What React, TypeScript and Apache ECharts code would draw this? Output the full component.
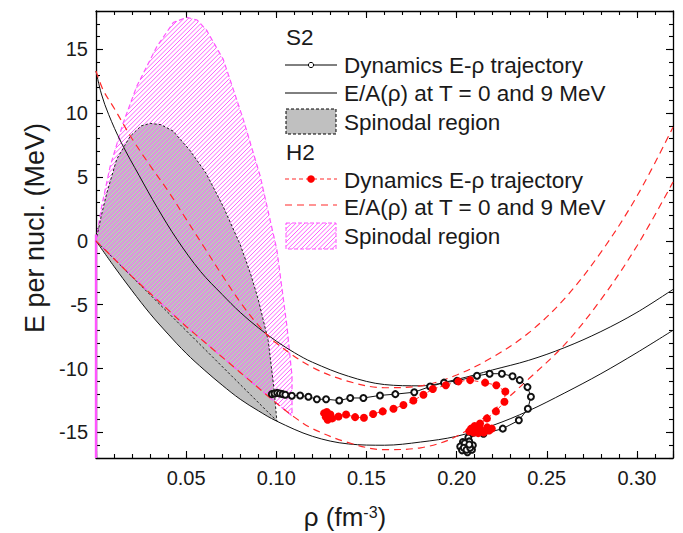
import React, { useEffect, useRef } from "react";
import * as echarts from "echarts";

// ---------- data ----------
// S2 : E/A(rho) at T = 0 (lower black curve)
const s2T0Rho = [0, 0.01, 0.02, 0.03, 0.04, 0.05, 0.06, 0.07, 0.08, 0.09, 0.10, 0.12, 0.14, 0.16, 0.18, 0.20, 0.22, 0.24, 0.26, 0.28, 0.30, 0.32];
const s2T0E = [0, -2.0, -3.9, -5.7, -7.3, -8.8, -10.1, -11.3, -12.4, -13.3, -14.1, -15.3, -15.9, -16.0, -15.75, -15.3, -14.45, -13.3, -11.9, -10.4, -8.75, -7.0];
// S2 : E/A(rho) at T = 9 MeV (upper black curve)
const s2T9Rho = [0, 0.003, 0.007, 0.014, 0.024, 0.034, 0.045, 0.058, 0.07, 0.08, 0.09, 0.10, 0.11, 0.12, 0.14, 0.16, 0.18, 0.20, 0.22, 0.24, 0.26, 0.28, 0.30, 0.32];
const s2T9E = [13.3, 11.5, 9.9, 7.7, 5.1, 2.6, 0.1, -2.4, -4.2, -5.6, -6.8, -7.85, -8.75, -9.5, -10.6, -11.25, -11.35, -10.85, -10.1, -9.35, -8.35, -7.1, -5.6, -3.8];
// H2 : E/A(rho) at T = 0 (lower red dashed curve)
const h2T0Rho = [0, 0.01, 0.02, 0.03, 0.04, 0.05, 0.06, 0.07, 0.08, 0.09, 0.10, 0.11, 0.12, 0.14, 0.16, 0.18, 0.20, 0.22, 0.24, 0.26, 0.28, 0.30, 0.32];
const h2T0E = [0, -1.4, -2.8, -4.1, -5.4, -6.7, -7.9, -9.1, -10.3, -11.5, -12.7, -13.8, -14.7, -15.8, -16.35, -16.2, -15.3, -13.3, -10.8, -8.1, -4.6, -0.4, 4.6];
// H2 : E/A(rho) at T = 9 MeV (upper red dashed curve)
const h2T9Rho = [0, 0.004, 0.01, 0.02, 0.03, 0.04, 0.05, 0.06, 0.07, 0.08, 0.09, 0.10, 0.12, 0.14, 0.16, 0.18, 0.20, 0.22, 0.24, 0.26, 0.28, 0.30, 0.32];
const h2T9E = [13.3, 11.8, 10.4, 8.0, 5.9, 3.9, 1.7, -0.5, -2.7, -4.8, -6.6, -8.0, -9.9, -11.0, -11.5, -11.35, -10.5, -9.1, -7.2, -4.5, -0.9, 3.5, 8.9];

// S2 spinodal region: upper boundary (closed by the S2 T=0 curve)
const s2SpinRho = [0, 0.003, 0.006, 0.0115, 0.019, 0.025, 0.030, 0.036, 0.0427, 0.052, 0.061, 0.0705, 0.080, 0.086, 0.090, 0.0955, 0.0988, 0.1003];
const s2SpinE = [0, 2.0, 3.75, 6.4, 8.2, 9.0, 9.2, 9.1, 8.6, 7.1, 5.3, 2.7, -0.3, -2.7, -4.6, -7.8, -11.7, -14.1];
// H2 spinodal region: upper boundary (closed by the H2 T=0 curve)
const h2SpinRho = [0, 0.003, 0.0078, 0.015, 0.0226, 0.0337, 0.0429, 0.0503, 0.056, 0.0613, 0.0706, 0.0817, 0.091, 0.1003, 0.1059, 0.1087, 0.1087];
const h2SpinE = [0, 2.6, 5.8, 9.2, 12.1, 15.2, 17.1, 17.5, 17.3, 16.5, 14.2, 9.5, 5.1, -0.7, -6.7, -10.6, -13.7];
const h2SpinEdgeRho = [0, 0];
const h2SpinEdgeE = [0.5, -17];

// S2 dynamics trajectory
const s2TrajRho = [0.0975, 0.099, 0.1005, 0.102, 0.1035, 0.105, 0.1086, 0.1132, 0.1178, 0.1225, 0.1276, 0.1349, 0.141, 0.1483, 0.1575, 0.166, 0.1765, 0.1853, 0.193, 0.2002, 0.2113, 0.2183, 0.2251, 0.231, 0.235, 0.2393, 0.2412, 0.2395, 0.2345, 0.2256, 0.2149, 0.2065, 0.2035, 0.202, 0.203, 0.206, 0.2085, 0.209, 0.207, 0.2045, 0.204, 0.2055, 0.2075, 0.207];
const s2TrajE = [-12.0, -11.95, -11.9, -11.95, -12.0, -12.05, -12.13, -12.1, -12.2, -12.4, -12.4, -12.5, -12.3, -12.3, -12.1, -12.0, -11.85, -11.4, -11.1, -10.96, -10.56, -10.4, -10.4, -10.6, -10.9, -11.45, -12.2, -13.15, -14.05, -14.7, -15.1, -15.4, -15.75, -16.1, -16.4, -16.55, -16.35, -16.0, -15.7, -15.85, -16.2, -16.35, -16.2, -15.95];
// H2 dynamics trajectory
const h2TrajRho = [0.1265, 0.1275, 0.1285, 0.128, 0.13, 0.131, 0.129, 0.1345, 0.1387, 0.1437, 0.1486, 0.1537, 0.159, 0.165, 0.1705, 0.176, 0.1816, 0.1868, 0.194, 0.201, 0.2075, 0.2158, 0.222, 0.227, 0.2265, 0.2218, 0.2168, 0.213, 0.21, 0.208, 0.207, 0.2095, 0.212, 0.215, 0.218, 0.2195, 0.217, 0.213, 0.211];
const h2TrajE = [-13.5, -13.8, -14.0, -13.4, -13.6, -13.9, -13.7, -13.75, -13.6, -13.8, -13.85, -13.55, -13.35, -13.15, -12.85, -12.5, -12.05, -11.6, -11.3, -11.0, -10.9, -11.1, -11.3, -11.8, -12.6, -13.35, -13.9, -14.3, -14.5, -14.7, -14.9, -15.0, -15.05, -15.0, -14.85, -14.7, -14.6, -14.7, -14.85];

// axes
const xMin = 0, xMax = 0.32;
const yMin = -17, yMax = 18;
const yMajorTicks = [-15, -10, -5, 0, 5, 10, 15];

// legend texts
const legendTitles = ["S2", "H2"];
const legendTexts = ["Dynamics E-ρ trajectory", "E/A(ρ) at T = 0 and 9 MeV", "Spinodal region"];

// ---------- styles ----------
const FONT = "'Liberation Sans', Arial, Helvetica, sans-serif";
const TXT = "#1a1a1a";
const RED = "#ff2a2a";
const MAG = "#ff55ff";
const HATCH = "#ff5cff";
const GREY = "#c0c0c0";
const HATCH_STEP = 4.4;

const zip = (xs: number[], ys: number[]) => xs.map((x, i) => [x, ys[i]]);

// segments of lines x + y = c (pixel space, "/" direction) inside a pixel polygon
function hatchSegments(poly: number[][], step: number): number[][] {
  const sums = poly.map((p) => p[0] + p[1]);
  const cMin = Math.min(...sums), cMax = Math.max(...sums);
  const segs: number[][] = [];
  const start = Math.ceil(cMin / step) * step;
  for (let c = start; c <= cMax; c += step) {
    const pts: number[][] = [];
    for (let i = 0; i < poly.length; i++) {
      const a = poly[i], b = poly[(i + 1) % poly.length];
      const sa = a[0] + a[1] - c, sb = b[0] + b[1] - c;
      if ((sa < 0 && sb >= 0) || (sa >= 0 && sb < 0)) {
        const t = sa / (sa - sb);
        pts.push([a[0] + t * (b[0] - a[0]), a[1] + t * (b[1] - a[1])]);
      }
    }
    pts.sort((p, q) => p[0] - q[0]);
    for (let k = 0; k + 1 < pts.length; k += 2) segs.push([pts[k][0], pts[k][1], pts[k + 1][0], pts[k + 1][1]]);
  }
  return segs;
}

function polygonPoints(upperX: number[], upperY: number[], lowX: number[], lowY: number[]) {
  const last = upperX[upperX.length - 1];
  const upper = zip(upperX, upperY);
  const lower = zip(lowX, lowY).filter((p) => p[0] < last - 1e-6 && p[0] > 0).reverse();
  return [...upper, ...lower, [0, 0]];
}

const s2Poly = polygonPoints(s2SpinRho, s2SpinE, s2T0Rho, s2T0E);
const h2Poly = polygonPoints(h2SpinRho, h2SpinE, h2T0Rho, h2T0E);

function polySeries(name: string, pts: number[][], style: any, hatched = false) {
  return {
    type: "custom",
    name,
    coordinateSystem: "cartesian2d",
    xAxisIndex: 0,
    yAxisIndex: 0,
    silent: true,
    clip: true,
    data: [[0, 0]],
    renderItem: (_p: any, api: any) => {
      const px = pts.map((p) => api.coord(p));
      if (!hatched) return { type: "polygon", shape: { points: px }, style };
      const lines = hatchSegments(px, HATCH_STEP).map((s) => ({
        type: "line",
        shape: { x1: s[0], y1: s[1], x2: s[2], y2: s[3] },
        style: { stroke: HATCH, lineWidth: 1 },
      }));
      return {
        type: "group",
        children: [...lines, { type: "polygon", shape: { points: px }, style }],
      };
    },
  };
}

function xAxisDef(position: string, interval: number, len: number, showLine: boolean, showLabel: boolean) {
  return {
    type: "value",
    min: xMin,
    max: xMax,
    interval,
    position,
    axisLine: { show: showLine, onZero: false, lineStyle: { color: "#000", width: 1.3 } },
    axisTick: { show: true, inside: true, length: len, lineStyle: { color: "#000", width: 1.1 } },
    axisLabel: {
      show: showLabel,
      margin: 10,
      fontSize: 20,
      fontFamily: FONT,
      color: TXT,
      formatter: (v: number) => (v < 0.001 || v > 0.305 ? "" : v.toFixed(2)),
    },
    splitLine: { show: false },
  };
}

function yAxisDef(position: string, major: boolean, showLine: boolean, showLabel: boolean) {
  const base: any = {
    type: "value",
    min: yMin,
    max: yMax,
    position,
    axisLine: { show: showLine, onZero: false, lineStyle: { color: "#000", width: 1.3 } },
    axisTick: { show: true, inside: true, length: major ? 7 : 4, lineStyle: { color: "#000", width: 1.1 } },
    axisLabel: { show: false },
    splitLine: { show: false },
  };
  if (major) {
    base.axisTick.customValues = yMajorTicks;
    base.axisLabel = {
      show: showLabel,
      customValues: yMajorTicks,
      margin: 8,
      fontSize: 20,
      fontFamily: FONT,
      color: TXT,
      formatter: (v: number) => String(v),
    };
  } else {
    base.interval = 1;
  }
  return base;
}

function legendGraphics() {
  const x0 = 285, x1 = 337, tx = 344;
  const t = (text: string, x: number, y: number) => ({
    type: "text",
    x,
    y,
    style: { text, fontSize: 22.5, fontFamily: FONT, fill: TXT, align: "left", verticalAlign: "middle" },
  });
  const hr = { x: 286, y: 223, w: 50, h: 26 };
  const rectPoly = [[hr.x, hr.y], [hr.x + hr.w, hr.y], [hr.x + hr.w, hr.y + hr.h], [hr.x, hr.y + hr.h]];
  const hatchLines = hatchSegments(rectPoly, HATCH_STEP).map((s) => ({
    type: "line",
    shape: { x1: s[0], y1: s[1], x2: s[2], y2: s[3] },
    style: { stroke: HATCH, lineWidth: 1 },
  }));
  return [
    t(legendTitles[0], 286, 37),
    { type: "line", shape: { x1: x0, y1: 65, x2: x1, y2: 65 }, style: { stroke: "#000", lineWidth: 1 } },
    { type: "circle", shape: { cx: 311, cy: 65, r: 2.6 }, style: { fill: "#fff", stroke: "#000", lineWidth: 1 } },
    t(legendTexts[0], tx, 65),
    { type: "line", shape: { x1: x0, y1: 93, x2: x1, y2: 93 }, style: { stroke: "#000", lineWidth: 1 } },
    t(legendTexts[1], tx, 93),
    { type: "rect", shape: { x: 286, y: 109, width: 50, height: 25 }, style: { fill: GREY, stroke: "#000", lineWidth: 1, lineDash: [3, 2] } },
    t(legendTexts[2], tx, 122),
    t(legendTitles[1], 286, 152),
    { type: "line", shape: { x1: x0, y1: 179, x2: x1, y2: 179 }, style: { stroke: RED, lineWidth: 1.2, lineDash: [4, 3] } },
    { type: "circle", shape: { cx: 311, cy: 179, r: 3.8 }, style: { fill: "#ff0000", stroke: "none" } },
    t(legendTexts[0], tx, 180),
    { type: "line", shape: { x1: x0, y1: 205, x2: x1, y2: 205 }, style: { stroke: RED, lineWidth: 1.2, lineDash: [7, 5] } },
    t(legendTexts[1], tx, 207),
    ...hatchLines,
    { type: "rect", shape: { x: hr.x, y: hr.y, width: hr.w, height: hr.h }, style: { fill: "none", stroke: MAG, lineWidth: 1, lineDash: [4, 2] } },
    t(legendTexts[2], tx, 236),
  ];
}

export default function App() {
  const ref = useRef<HTMLDivElement>(null);
  useEffect(() => {
    if (!ref.current) return;
    const chart = echarts.init(ref.current, null, { renderer: "svg" });
    const curve = (name: string, xs: number[], ys: number[], color: string, dash: any, width: number) => ({
      type: "line",
      name,
      data: zip(xs, ys),
      smooth: 0.35,
      showSymbol: false,
      symbol: "none",
      silent: true,
      lineStyle: { color, width, type: dash },
      xAxisIndex: 0,
      yAxisIndex: 0,
    });
    const option: any = {
      animation: false,
      backgroundColor: "#fff",
      grid: { left: 96, top: 11, right: 10, bottom: 75, containLabel: false },
      xAxis: [
        xAxisDef("bottom", 0.05, 7, true, true),
        xAxisDef("bottom", 0.01, 4, false, false),
        xAxisDef("top", 0.05, 7, true, false),
        xAxisDef("top", 0.01, 4, false, false),
      ],
      yAxis: [
        yAxisDef("left", true, true, true),
        yAxisDef("left", false, false, false),
        yAxisDef("right", true, true, false),
        yAxisDef("right", false, false, false),
      ],
      series: [
        polySeries("S2 spinodal fill", s2Poly, { fill: GREY, stroke: "none" }),
        polySeries("H2 spinodal", h2Poly, { fill: "none", stroke: MAG, lineWidth: 1.2, lineDash: [5, 3] }, true),
        polySeries("S2 spinodal edge", zip(s2SpinRho, s2SpinE).concat([[0, 0]]), { fill: "none", stroke: "#222", lineWidth: 1, lineDash: [2.5, 2] }),
        {
          type: "line",
          name: "H2 spinodal edge",
          data: zip(h2SpinEdgeRho, h2SpinEdgeE),
          symbol: "none",
          silent: true,
          clip: false,
          z: 3,
          lineStyle: { color: MAG, width: 2.4 },
        },
        curve("S2 T=0", s2T0Rho, s2T0E, "#111", "solid", 1),
        curve("S2 T=9", s2T9Rho, s2T9E, "#111", "solid", 1),
        curve("H2 T=0", h2T0Rho, h2T0E, RED, [7, 5], 1.2),
        curve("H2 T=9", h2T9Rho, h2T9E, RED, [7, 5], 1.2),
        {
          type: "line",
          name: "S2 trajectory",
          data: zip(s2TrajRho, s2TrajE),
          symbol: "emptyCircle",
          symbolSize: 6,
          showAllSymbol: true,
          silent: true,
          itemStyle: { color: "#111", borderColor: "#111", borderWidth: 1 },
          lineStyle: { color: "#111", width: 1 },
        },
        {
          type: "line",
          name: "H2 trajectory",
          data: zip(h2TrajRho, h2TrajE),
          symbol: "circle",
          symbolSize: 8,
          showAllSymbol: true,
          silent: true,
          itemStyle: { color: "#ff0000" },
          lineStyle: { color: RED, width: 1, type: [4, 3] },
        },
      ],
      graphic: [
        ...legendGraphics(),
        {
          type: "text",
          x: 35,
          y: 228,
          rotation: Math.PI / 2,
          style: { text: "E per nucl. (MeV)", fontSize: 27, fontFamily: FONT, fill: TXT, align: "center", verticalAlign: "middle" },
        },
        {
          type: "text",
          x: 345,
          y: 517,
          style: {
            text: "{a|ρ (fm}{s|-3}{a|)}",
            align: "center",
            verticalAlign: "middle",
            fill: TXT,
            rich: {
              a: { fontSize: 26, fontFamily: FONT, fill: TXT },
              s: { fontSize: 16, fontFamily: FONT, fill: TXT, verticalAlign: "top" },
            },
          },
        },
      ],
    };
    chart.setOption(option);
    return () => chart.dispose();
  }, []);
  return (
    <div
      ref={ref}
      style={{ position: "fixed", left: 0, top: 0, width: 683, height: 533, background: "#fff" }}
    />
  );
}
